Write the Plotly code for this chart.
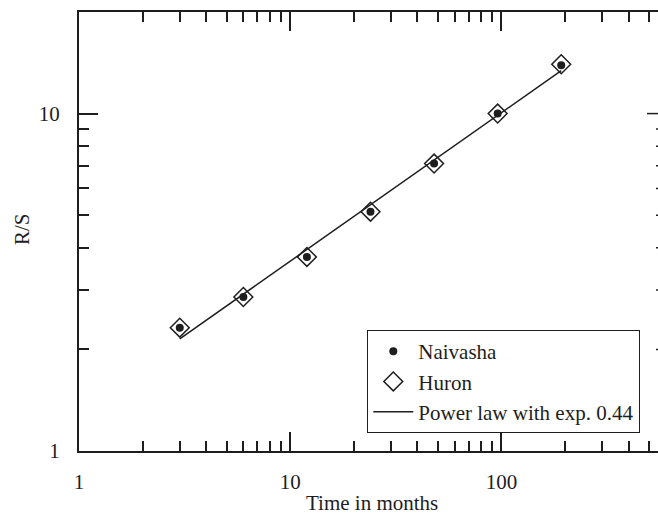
import math
import plotly.graph_objects as go

# ---- data ----
months = [3, 6, 12, 24, 48, 96, 192]
naivasha_rs = [2.32, 2.86, 3.76, 5.12, 7.11, 10.0, 13.9]
huron_rs = [2.32, 2.86, 3.76, 5.12, 7.11, 10.0, 14.0]
fit_months = [3, 192]
fit_rs = [2.15, 13.4]

x_tickvals = [1, 10, 100]
x_ticktext = ["1", "10", "100"]
y_tickvals = [1, 10]
y_ticktext = ["1", "10"]
right_minor_ticks = [2, 3, 4, 5, 6, 7, 8, 9]
right_major_ticks = [10]

x_title = "Time in months"
y_title = "R/S"

INK = "#1e1e1e"
FONT = dict(family="Liberation Serif, Times New Roman, serif", size=21, color=INK)

W, H = 658, 516
ML, MR, MT, MB = 79, 0, 12, 65
plot_w = W - ML - MR
plot_h = H - MT - MB
decade_px = 211.2

fig = go.Figure()
fig.add_trace(go.Scatter(
    x=months, y=naivasha_rs, mode="markers", name="Naivasha",
    marker=dict(symbol="circle", size=8, color=INK, line=dict(width=0)),
))
fig.add_trace(go.Scatter(
    x=months, y=huron_rs, mode="markers", name="Huron",
    marker=dict(symbol="diamond-open", size=14.5, color=INK, line=dict(width=1.5, color=INK)),
))
fig.add_trace(go.Scatter(
    x=fit_months, y=fit_rs, mode="lines", name="Power law with exp. 0.44",
    line=dict(color=INK, width=1.5),
))

# right-side inward ticks (axis itself lies just beyond the visible area)
for v in right_major_ticks:
    fig.add_shape(type="line", xref="paper", yref="y", x0=1 - 11 / plot_w, x1=1,
                  y0=v, y1=v, line=dict(color=INK, width=1.5))
for v in right_minor_ticks:
    fig.add_shape(type="line", xref="paper", yref="y", x0=1 - 2 / plot_w, x1=1,
                  y0=v, y1=v, line=dict(color=INK, width=1.5))

# axis titles placed as annotations for exact positioning
fig.add_annotation(text=x_title, xref="paper", yref="paper",
                   x=(372 - ML) / plot_w, y=(MT + plot_h - 516) / plot_h,
                   xanchor="center", yanchor="bottom", showarrow=False, font=FONT,
                   borderpad=0)
fig.add_annotation(text=y_title, xref="paper", yref="paper",
                   x=(22 - ML) / plot_w, y=(MT + plot_h - 229) / plot_h,
                   xanchor="center", yanchor="middle", textangle=-90,
                   showarrow=False, font=FONT)

fig.update_layout(
    width=W, height=H,
    margin=dict(l=ML, r=MR, t=MT, b=MB, pad=0),
    paper_bgcolor="white", plot_bgcolor="white",
    font=FONT,
    showlegend=True,
    legend=dict(
        x=(367.3 - ML) / plot_w, y=(MT + plot_h - 330) / plot_h,
        xanchor="left", yanchor="top",
        bgcolor="white", bordercolor=INK, borderwidth=1,
        font=FONT, itemwidth=40, tracegroupgap=0,
    ),
    xaxis=dict(
        type="log", range=[0, plot_w / decade_px],
        tickmode="array", tickvals=x_tickvals, ticktext=x_ticktext,
        ticks="inside", ticklen=19, tickwidth=1.5, tickcolor=INK,
        minor=dict(ticks="inside", ticklen=10, tickwidth=1.5, tickcolor=INK, dtick="D1", showgrid=False),
        showline=True, linewidth=2, linecolor=INK, mirror="ticks",
        showgrid=False, zeroline=False,
        ticklabelstandoff=11,
    ),
    yaxis=dict(
        type="log", range=[0, math.log10(20)],
        tickmode="array", tickvals=y_tickvals, ticktext=y_ticktext,
        ticks="inside", ticklen=19, tickwidth=1.5, tickcolor=INK,
        minor=dict(ticks="inside", ticklen=10, tickwidth=1.5, tickcolor=INK, dtick="D1", showgrid=False),
        showline=True, linewidth=2, linecolor=INK, mirror=False,
        showgrid=False, zeroline=False,
        ticklabelstandoff=13,
    ),
)

fig.write_html("out.html")
